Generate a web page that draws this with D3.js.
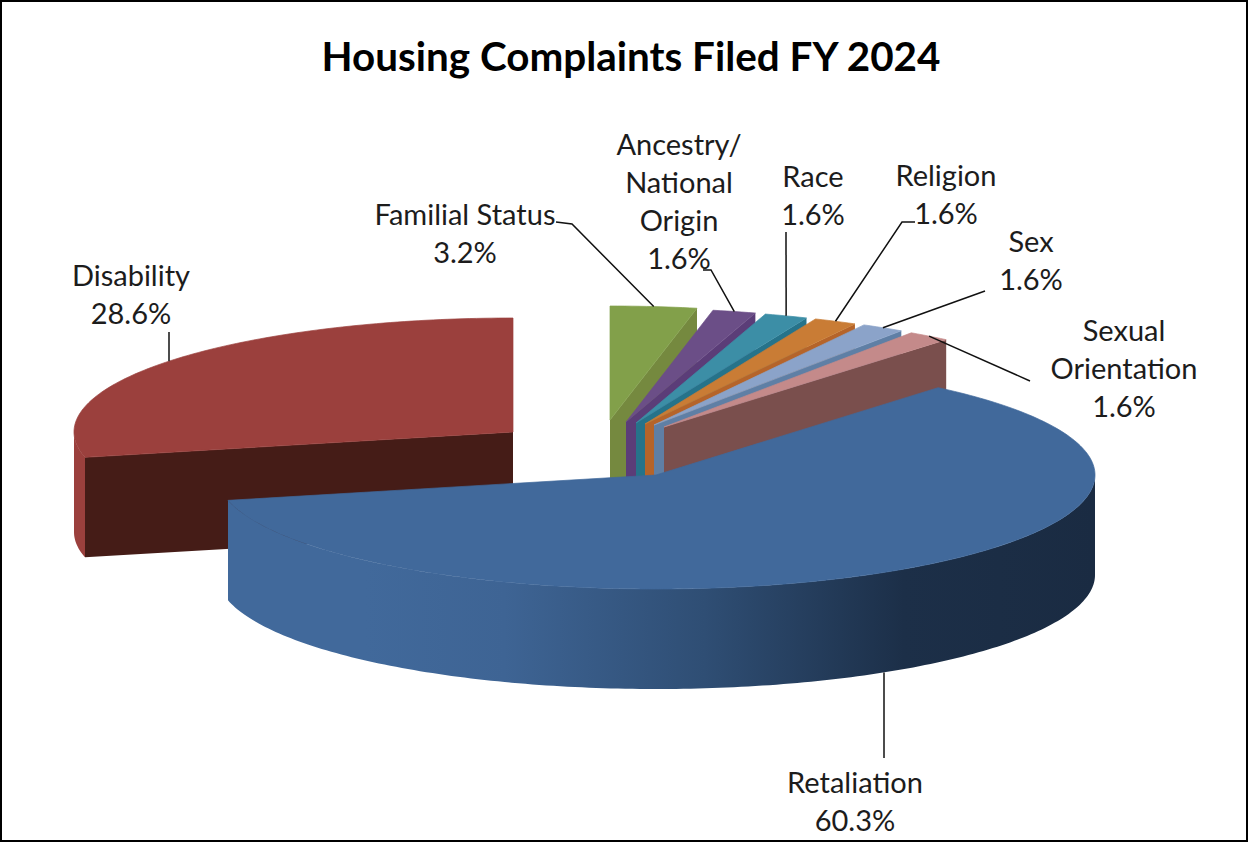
<!DOCTYPE html>
<html><head><meta charset="utf-8">
<script src="https://cdn.jsdelivr.net/npm/d3@7"></script>
<style>html,body{margin:0;padding:0;background:#fff}svg{display:block}text{font-family:Lato,"Open Sans",sans-serif;fill:#1c1c1c}</style>
</head><body><svg id="c" width="1249" height="843"></svg>
<script>
const titleText = "Housing Complaints Filed FY 2024";
const categories = ["Familial Status","Ancestry/ National Origin","Race","Religion","Sex","Sexual Orientation","Retaliation","Disability"];
const complaints = [2,1,1,1,1,1,38,18];
const topColors  = ["#82a04a","#6b4e87","#3c8ea6","#c97c35","#8ba3c9","#c48a8a","#41699b","#9b403d"];
const faceColors = ["#75893f","#5b3d78","#26738a","#b5642a","#5f7fa5","#7a4f4d","#41699b","#451c17"];

// layout (separate from the data)
const W=1249,H=843, rx=439, ry=114, depth=100;
const apexes=[[610,420],[626,422],[636,423],[645,424],[654,425],[664,427],[656,475],[513,432]];
const labelLines=[["Familial Status"],["Ancestry/","National","Origin"],["Race"],["Religion"],["Sex"],["Sexual","Orientation"],["Retaliation"],["Disability"]];
const labelAt=[[465,225],[679,155],[813,187],[946,186],[1031,252],[1124,341],[855,793],[131,286]];
const leaders=[[[556,222],[572,224]],[[703,270],[711,270]],[[786,232]],[[915,222],[902,222]],[[985,291]],[[1030,381]],[[884,758]],[[169,332]]];

const svg=d3.select("#c");
const total=d3.sum(complaints), pct=d3.format(".1%");
const arcs=d3.pie().sort(null).value(d=>d)(complaints);
const line=d3.line();
const pt=(i,a,dz=0)=>[apexes[i][0]+rx*Math.sin(a), apexes[i][1]-ry*Math.cos(a)+dz];
const rim=(i,a0,a1,dz=0)=>{const n=Math.max(2,Math.ceil(Math.abs(a1-a0)*60));
  return d3.range(n+1).map(k=>pt(i,a0+(a1-a0)*k/n,dz));};

const grad=svg.append("defs").append("linearGradient").attr("id","rimGrad")
  .attr("gradientUnits","userSpaceOnUse").attr("x1",227).attr("x2",1095).attr("y1",0).attr("y2",0);
[[0,"#41699b"],[.16,"#41699b"],[.32,"#3e6494"],[.55,"#2f4e74"],[.78,"#1c2f48"],[1,"#1a2b42"]].forEach(s=>grad.append("stop").attr("offset",s[0]).attr("stop-color",s[1]));

svg.append("rect").attr("x",1).attr("y",1).attr("width",W-3).attr("height",H-3).attr("fill","#fff").attr("stroke","#000").attr("stroke-width",2);

svg.append("text").attr("x",631).attr("y",71).attr("text-anchor","middle").attr("font-size",40.4).attr("font-weight",700).style("fill","#000").text(titleText);

const drawOrder=[7,0,1,2,3,4,5,6];
const g=svg.append("g");
drawOrder.forEach(i=>{
  const d=arcs[i], ap=apexes[i], s=d.startAngle, e=d.endAngle, apPt=[ap[0],ap[1]];
  const gi=g.append("g").attr("class","slice");
  if(i===6){
    gi.append("path").attr("d",line([...rim(i,Math.PI/2,e),...rim(i,e,Math.PI/2,depth)])+"Z").attr("fill","url(#rimGrad)");
  } else if(i===7){
    gi.append("path").attr("d",line([...rim(i,s,3*Math.PI/2),...rim(i,3*Math.PI/2,s,depth)])+"Z").attr("fill",topColors[i]);
    gi.append("path").attr("d",line([apPt,pt(i,s),pt(i,s,depth),[ap[0],ap[1]+depth]])+"Z").attr("fill",faceColors[i]);
  } else {
    gi.append("path").attr("d",line([apPt,pt(i,e),pt(i,e,depth),[ap[0],ap[1]+depth]])+"Z").attr("fill",faceColors[i]);
  }
  gi.append("path").attr("d",line([apPt,...rim(i,s,e)])+"Z").attr("fill",topColors[i]).attr("stroke",topColors[i]).attr("stroke-width",.7);
});

// leader lines end on the rim at each slice's middle angle
arcs.forEach((d,i)=>{
  const mid=(d.startAngle+d.endAngle)/2;
  let anchor;
  if(i===6) anchor=pt(i,Math.PI-Math.asin((leaders[6][0][0]-apexes[6][0])/rx),depth);
  else if(i===7) anchor=pt(i,2*Math.PI+Math.asin((leaders[7][0][0]-apexes[7][0])/rx));
  else anchor=pt(i,mid);
  svg.append("path").attr("d",line([...leaders[i],anchor])).attr("fill","none").attr("stroke","#111").attr("stroke-width",1.5);
});

// labels
arcs.forEach((d,i)=>{
  const rows=[...labelLines[i],pct(d.value/total)];
  const t=svg.append("text").attr("text-anchor","middle").attr("font-size",29);
  rows.forEach((r,k)=>t.append("tspan").attr("x",labelAt[i][0]).attr("y",labelAt[i][1]+k*38).text(r));
});
</script></body></html>
